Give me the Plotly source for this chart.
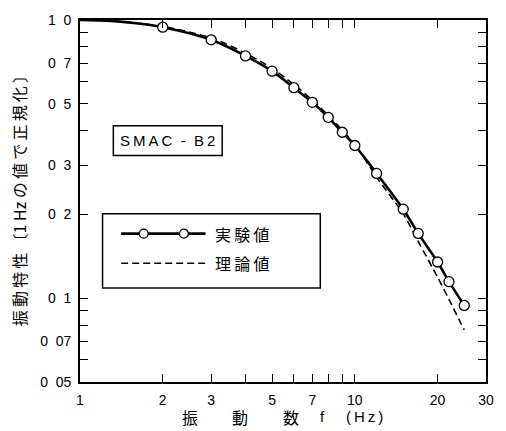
import plotly.graph_objects as go

# Measured (experimental) data, normalized at 1 Hz
exp_f = [2, 3, 4, 5, 6, 7, 8, 9, 10, 12, 15, 17, 20, 22, 25]
exp_v = [0.942, 0.849, 0.743, 0.655, 0.571, 0.506, 0.447, 0.395, 0.354, 0.281, 0.209, 0.171, 0.135, 0.1147, 0.0942]
# solid curve start (1 Hz normalization point) and shoulder
exp_line_f = [1, 1.3, 1.6] + exp_f
exp_line_v = [1.0, 0.992, 0.973] + exp_v

# Theoretical curve
th_f = [1, 1.3, 1.6, 2, 3, 4, 5, 6, 7, 8, 10, 12, 15, 17, 20, 22, 25]
th_v = [1.0, 0.993, 0.976, 0.948, 0.862, 0.760, 0.670, 0.586, 0.516, 0.454, 0.357, 0.272, 0.201, 0.160, 0.119, 0.099, 0.077]

x_tickvals = [1, 2, 3, 4, 5, 6, 7, 8, 9, 10, 20, 30]
x_ticktext = ["1", "2", "3", "", "5", "", "7", "", "", "10", "20", "30"]
y_tickvals = [1.0, 0.9, 0.8, 0.7, 0.6, 0.5, 0.4, 0.3, 0.2, 0.1, 0.09, 0.08, 0.07, 0.06, 0.05]
sp = "\u00a0\u00a0"
y_ticktext = ["1" + sp + "0", "", "", "0" + sp + "7", "", "0" + sp + "5", "", "0" + sp + "3",
              "0" + sp + "2", "0" + sp + "1", "", "", "0" + sp + "07", "", "0" + sp + "05"]

FONT = "Liberation Sans, DejaVu Sans, sans-serif"
CJK = "Noto Sans CJK JP, sans-serif"
ts = "\u2009"
nb = "\u00a0"

fig = go.Figure()
fig.add_trace(go.Scatter(x=th_f, y=th_v, mode="lines", line=dict(color="black", width=1.6, dash="7px,4px", shape="spline", smoothing=0.8),
                         showlegend=False, hoverinfo="skip"))
fig.add_trace(go.Scatter(x=exp_line_f, y=exp_line_v, mode="lines", line=dict(color="black", width=2.6, shape="spline", smoothing=0.8),
                         showlegend=False, hoverinfo="skip"))
fig.add_trace(go.Scatter(x=exp_f, y=exp_v, mode="markers",
                         marker=dict(symbol="circle", size=10, color="white", line=dict(color="black", width=1.3)),
                         showlegend=False))

# plot area in pixels: x 80-494, y 16-382
L, R, T, B = 80, 494, 16, 382
W, H = 506, 431
def px(x):
    return (x - L) / (R - L)
def py(y):
    return (B - y) / (B - T)

shapes = []
# SMAC-B2 box
shapes.append(dict(type="rect", xref="paper", yref="paper", x0=px(114), x1=px(225), y0=py(153), y1=py(123),
                   line=dict(color="black", width=1.5)))
# legend box
shapes.append(dict(type="rect", xref="paper", yref="paper", x0=px(103), x1=px(325), y0=py(287), y1=py(212),
                   line=dict(color="black", width=1.5)))
# legend solid line
shapes.append(dict(type="line", xref="paper", yref="paper", x0=px(122), x1=px(208), y0=py(232), y1=py(232),
                   line=dict(color="black", width=2.6)))
for cx in (145, 186):
    shapes.append(dict(type="circle", xref="paper", yref="paper", x0=px(cx - 4.5), x1=px(cx + 4.5), y0=py(232 + 4.5), y1=py(232 - 4.5),
                       line=dict(color="black", width=1.3), fillcolor="white"))
# legend dashed line
shapes.append(dict(type="line", xref="paper", yref="paper", x0=px(122), x1=px(208), y0=py(262), y1=py(262),
                   line=dict(color="black", width=1.6, dash="7px,4px")))

def ann(text, x, y, font, size, xanchor="center", angle=0):
    return dict(text=text, xref="paper", yref="paper", x=px(x), y=py(y), showarrow=False, textangle=angle,
                font=dict(family=font, size=size, color="black"), xanchor=xanchor, yanchor="middle")

annotations = [
    ann(ts.join("SMAC") + nb + nb + "-" + nb + nb + ts.join("B2"), 169.5, 138, FONT, 15),
    ann(ts.join("実験値"), 216, 232, CJK, 16, "left"),
    ann(ts.join("理論値"), 216, 262, CJK, 16, "left"),
    ann("振", 192, 417, CJK, 16),
    ann("動", 243, 417, CJK, 16),
    ann("数", 295, 417, CJK, 16),
    ann("f", 327, 417, FONT, 15),
    ann("(" + ts + "H" + ts + "z" + ts + ")", 370, 417, FONT, 15),
    ann(ts.join("振動特性〔") + "1 Hz の" + ts + ts.join("値で正規化〕"), 18, 195, CJK, 16, angle=-90),
]

fig.update_layout(
    width=W, height=H,
    margin=dict(l=L, r=W - R, t=T, b=H - B),
    paper_bgcolor="white", plot_bgcolor="white",
    showlegend=False,
    shapes=shapes, annotations=annotations,
    font=dict(family=FONT, size=14, color="black"),
)
fig.update_xaxes(type="log", range=[0, 1.4771], tickvals=x_tickvals, ticktext=x_ticktext,
                 ticks="inside", ticklen=8, tickwidth=1.2, tickcolor="black",
                 showline=True, linecolor="black", linewidth=1.8, mirror="ticks",
                 showgrid=False, zeroline=False, tickfont=dict(family=FONT, size=14), ticklabelstandoff=4)
fig.update_yaxes(type="log", range=[-1.30103, 0], tickvals=y_tickvals, ticktext=y_ticktext,
                 ticks="inside", ticklen=8, tickwidth=1.2, tickcolor="black",
                 showline=True, linecolor="black", linewidth=1.8, mirror="ticks",
                 showgrid=False, zeroline=False, tickfont=dict(family=FONT, size=14), ticklabelstandoff=4)

fig.write_html("out.html")
